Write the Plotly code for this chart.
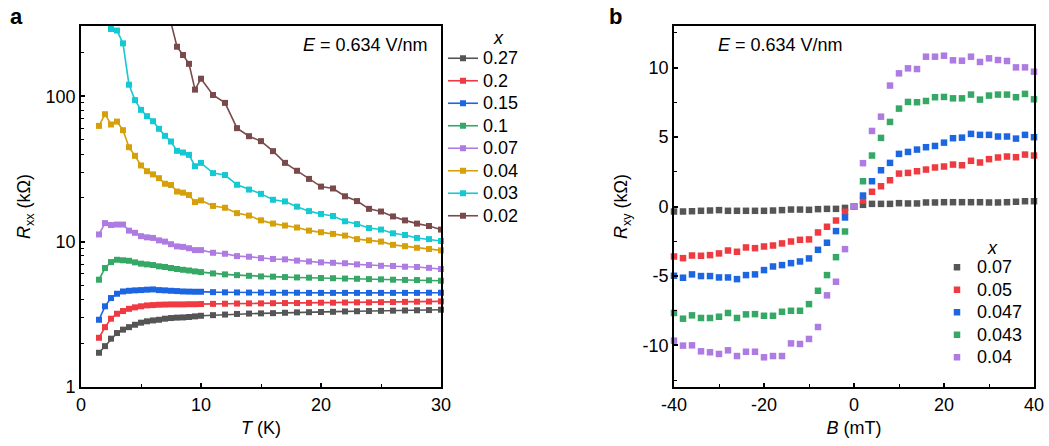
import plotly.graph_objects as go

# ---------------- Panel a: Rxx vs T ----------------
T = [1.5, 2, 2.5, 3, 3.5, 4, 4.5, 5, 5.5, 6, 6.5, 7, 7.5, 8, 8.5, 9, 9.5, 10,
     11, 12, 13, 14, 15, 16, 17, 18, 19, 20, 21, 22, 23, 24, 25, 26, 27, 28, 29, 30]

x_labels_a = ["0.27", "0.2", "0.15", "0.1", "0.07", "0.04", "0.03", "0.02"]

r_027 = [1.72, 1.91, 2.15, 2.35, 2.48, 2.58, 2.68, 2.77, 2.83, 2.87, 2.90, 2.95, 2.98, 3.00, 3.01, 3.03, 3.06, 3.09,
         3.12, 3.15, 3.18, 3.20, 3.21, 3.22, 3.24, 3.26, 3.27, 3.28, 3.29, 3.31, 3.32, 3.33, 3.34, 3.35, 3.36, 3.37, 3.38, 3.40]
r_020 = [2.18, 2.58, 2.95, 3.19, 3.33, 3.45, 3.53, 3.59, 3.64, 3.66, 3.68, 3.69, 3.70, 3.70, 3.70, 3.71, 3.71, 3.72,
         3.73, 3.74, 3.75, 3.76, 3.76, 3.77, 3.78, 3.78, 3.79, 3.80, 3.80, 3.81, 3.82, 3.82, 3.83, 3.84, 3.85, 3.86, 3.87, 3.88]
r_015 = [2.90, 3.59, 4.09, 4.38, 4.54, 4.59, 4.62, 4.64, 4.67, 4.69, 4.64, 4.62, 4.59, 4.57, 4.54, 4.53, 4.52, 4.52,
         4.49, 4.48, 4.47, 4.46, 4.46, 4.45, 4.45, 4.45, 4.44, 4.44, 4.44, 4.44, 4.44, 4.44, 4.44, 4.44, 4.44, 4.44, 4.45, 4.45]
r_010 = [5.47, 6.58, 7.23, 7.50, 7.44, 7.38, 7.20, 7.05, 6.97, 6.90, 6.76, 6.69, 6.58, 6.48, 6.40, 6.33, 6.24, 6.17,
         6.04, 5.95, 5.88, 5.82, 5.76, 5.74, 5.70, 5.67, 5.65, 5.62, 5.60, 5.57, 5.55, 5.52, 5.50, 5.47, 5.45, 5.44, 5.42, 5.38]
r_007 = [11.2, 13.4, 13.0, 13.1, 13.1, 11.9, 11.5, 10.9, 10.7, 10.6, 10.2, 10.0, 9.6, 9.27, 9.2, 9.0, 8.74, 8.74,
         8.38, 8.25, 7.95, 7.87, 7.70, 7.60, 7.55, 7.40, 7.30, 7.20, 7.15, 7.10, 6.97, 6.90, 6.82, 6.80, 6.72, 6.69, 6.60, 6.48]
r_004 = [62.5, 75.2, 63.9, 66.9, 58.4, 44.6, 38.9, 33.4, 30.5, 29.0, 27.3, 25.0, 24.5, 22.1, 21.7, 20.9, 18.7, 19.2,
         17.6, 17.1, 15.7, 15.1, 14.0, 13.3, 12.9, 12.5, 11.9, 11.6, 11.3, 11.0, 10.4, 10.2, 10.0, 9.5, 9.3, 9.07, 8.9, 8.7]
r_003 = [None, None, 290, 283, 231, 120, 94, 80.6, 72.9, 67.3, 59.7, 53.4, 48.8, 42.1, 41.0, 39.5, 33.0, 34.8,
         29.6, 28.7, 24.6, 22.8, 21.3, 19.4, 18.9, 17.4, 16.2, 15.5, 15.0, 13.8, 13.2, 12.4, 12.1, 11.4, 11.1, 10.6, 10.4, 10.1]
r_002 = [None, None, None, None, None, None, None, None, None, None, None, None, 320, 219, 192, 167, 111, 132,
         102, 90, 60.3, 53.1, 49.1, 41.9, 34.8, 30.7, 27.0, 23.9, 23.2, 20.5, 19.0, 16.8, 16.1, 14.9, 14.0, 13.3, 12.8, 12.1]

series_a = [r_027, r_020, r_015, r_010, r_007, r_004, r_003, r_002]
colors_a = ["#555555", "#EE3A40", "#1C66E2", "#35A866", "#AE7BE2", "#D5A00A", "#14C9D2", "#7A4A4A"]

# ---------------- Panel b: Rxy vs B ----------------
B = [-40, -38, -36, -34, -32, -30, -28, -26, -24, -22, -20, -18, -16, -14, -12, -10, -8, -6, -4, -2, 0,
     2, 4, 6, 8, 10, 12, 14, 16, 18, 20, 22, 24, 26, 28, 30, 32, 34, 36, 38, 40]

x_labels_b = ["0.07", "0.05", "0.047", "0.043", "0.04"]

h_007 = [-0.36, -0.36, -0.34, -0.31, -0.29, -0.26, -0.31, -0.31, -0.31, -0.31, -0.31, -0.29, -0.26, -0.22, -0.22, -0.24, -0.19, -0.17, -0.17, -0.10, 0.0,
         0.12, 0.19, 0.19, 0.19, 0.24, 0.22, 0.22, 0.29, 0.29, 0.31, 0.31, 0.31, 0.31, 0.31, 0.29, 0.29, 0.31, 0.34, 0.38, 0.38]
h_005 = [-3.60, -3.72, -3.53, -3.55, -3.50, -3.38, -3.17, -3.26, -2.95, -3.00, -2.88, -2.81, -2.66, -2.52, -2.40, -2.37, -1.87, -1.46, -1.01, -0.38, 0.0,
         0.43, 1.06, 1.46, 1.89, 2.37, 2.42, 2.54, 2.66, 2.81, 2.88, 3.02, 2.97, 3.29, 3.17, 3.41, 3.53, 3.60, 3.55, 3.74, 3.67]
h_0047 = [-4.99, -5.13, -4.89, -5.01, -5.01, -5.11, -5.11, -5.23, -4.94, -4.89, -4.58, -4.32, -4.22, -4.08, -3.96, -3.74, -3.12, -2.61, -1.77, -0.79, 0.0,
          0.79, 1.82, 2.61, 3.14, 3.79, 3.93, 4.10, 4.27, 4.36, 4.60, 4.92, 4.96, 5.23, 5.16, 5.16, 5.04, 5.04, 4.89, 5.16, 4.99]
h_0043 = [-7.67, -8.08, -7.84, -8.03, -8.03, -7.94, -7.67, -8.03, -7.77, -7.75, -7.87, -7.87, -7.58, -7.51, -7.51, -7.03, -6.07, -4.94, -3.65, -1.80, 0.0,
          1.82, 3.67, 4.94, 6.09, 7.05, 7.53, 7.51, 7.60, 7.87, 7.89, 7.79, 7.79, 8.06, 7.70, 7.99, 8.06, 8.06, 7.87, 8.11, 7.72]
h_004 = [-9.66, -10.02, -10.00, -10.43, -10.50, -10.62, -10.36, -10.77, -10.46, -10.46, -10.86, -10.77, -10.77, -9.86, -9.90, -9.54, -8.68, -6.40, -5.42, -3.07, 0.0,
         3.12, 5.44, 6.47, 8.71, 9.59, 9.95, 9.90, 10.79, 10.79, 10.86, 10.53, 10.50, 10.79, 10.41, 10.67, 10.55, 10.48, 10.02, 10.02, 9.71]

series_b = [h_007, h_005, h_0047, h_0043, h_004]
colors_b = ["#555555", "#EE3A40", "#1C66E2", "#35A866", "#AE7BE2"]

FONT = "Liberation Sans, Arial, sans-serif"
W, H = 1049, 446
MT, MB = 26, 59
PH = H - MT - MB


def px(xp):
    return xp / W


def py(yp):
    return (H - MB - yp) / PH


fig = go.Figure()

for name, ys, c in zip(x_labels_a, series_a, colors_a):
    fig.add_trace(go.Scatter(
        x=T, y=ys, mode="lines+markers", xaxis="x", yaxis="y",
        name='<span style="font-size:18px">' + name + '</span>',
        line=dict(color=c, width=1.6),
        marker=dict(symbol="square", size=6, color=c),
        cliponaxis=(name == "0.02"), legend="legend",
    ))

for name, ys, c in zip(x_labels_b, series_b, colors_b):
    fig.add_trace(go.Scatter(
        x=B, y=ys, mode="markers", xaxis="x2", yaxis="y2",
        name='<span style="font-size:18px">' + name + '</span>',
        marker=dict(symbol="square", size=6.5, color=c),
        cliponaxis=False, legend="legend2",
    ))

axis_common = dict(
    showline=True, linecolor="black", linewidth=1.8, mirror=True,
    ticks="inside", ticklen=4, tickwidth=1.5, tickcolor="black",
    showgrid=False, zeroline=False, automargin=False,
    tickfont=dict(family=FONT, size=18, color="black"),
    title_font=dict(family=FONT, size=18, color="black"),
)

fig.update_layout(
    template="none",
    width=W, height=H,
    margin=dict(l=0, r=0, t=MT, b=MB),
    paper_bgcolor="white", plot_bgcolor="white",
    font=dict(family=FONT, size=18, color="black"),
    showlegend=True,
    xaxis=dict(domain=[px(81), px(441)], range=[0, 30],
               tickvals=[0, 10, 20, 30], ticktext=["0", "10", "20", "30"], anchor="y",
               minor=dict(ticks="inside", ticklen=3, tickwidth=1.2, tickcolor="black",
                          tickvals=[5, 15, 25]),
               title=dict(text="<i>T</i> (K)", standoff=8), **axis_common),
    yaxis=dict(domain=[0, 1], type="log", range=[0, 2.483], anchor="x",
               tickvals=[1, 10, 100], ticktext=["1", "10", "100"],
               minor=dict(ticks="inside", ticklen=3, tickwidth=1.2, tickcolor="black",
                          tickvals=[2, 3, 4, 5, 6, 7, 8, 9, 20, 30, 40, 50, 60, 70, 80, 90, 200, 300]),
               title=dict(text="<i>R</i><sub>xx</sub> (kΩ)", standoff=10), **axis_common),
    xaxis2=dict(domain=[px(674), px(1034)], range=[-40, 40],
                tickvals=[-40, -20, 0, 20, 40], ticktext=["-40", "-20", "0", "20", "40"], anchor="y2",
                minor=dict(ticks="inside", ticklen=3, tickwidth=1.2, tickcolor="black",
                           tickvals=[-30, -10, 10, 30]),
                title=dict(text="<i>B</i> (mT)", standoff=8), **axis_common),
    yaxis2=dict(domain=[0, 1], range=[-13, 13],
                tickvals=[-10, -5, 0, 5, 10], ticktext=["-10", "-5", "0", "5", "10"], anchor="x2",
                minor=dict(ticks="inside", ticklen=3, tickwidth=1.2, tickcolor="black",
                           tickvals=[-12.5, -7.5, -2.5, 2.5, 7.5, 12.5]),
                title=dict(text="<i>R</i><sub>xy</sub> (kΩ)", standoff=10), **axis_common),
    legend=dict(x=px(443), y=py(42), xanchor="left", yanchor="top",
                bgcolor="rgba(0,0,0,0)", borderwidth=0,
                font=dict(family=FONT, size=15, color="black")),
    legend2=dict(x=px(937), y=py(251), xanchor="left", yanchor="top",
                 bgcolor="rgba(0,0,0,0)", borderwidth=0,
                 font=dict(family=FONT, size=15, color="black")),
)

ann_font = dict(family=FONT, size=18, color="black")


def note(xp, yp, text, xanchor="center", font=ann_font):
    fig.add_annotation(x=px(xp), y=py(yp), xref="paper", yref="paper",
                       xanchor=xanchor, yanchor="middle",
                       text=text, showarrow=False, font=font)


panel_font = dict(family=FONT, size=22, color="black")
note(16, 16, "<b>a</b>", font=panel_font)
note(615, 16, "<b>b</b>", font=panel_font)
note(430, 45, "<i>E</i> = 0.634 V/nm", xanchor="right")
note(716, 45, "<i>E</i> = 0.634 V/nm", xanchor="left")
note(498, 38, "<i>x</i>")
note(992, 248, "<i>x</i>")

fig.write_html("out.html")
